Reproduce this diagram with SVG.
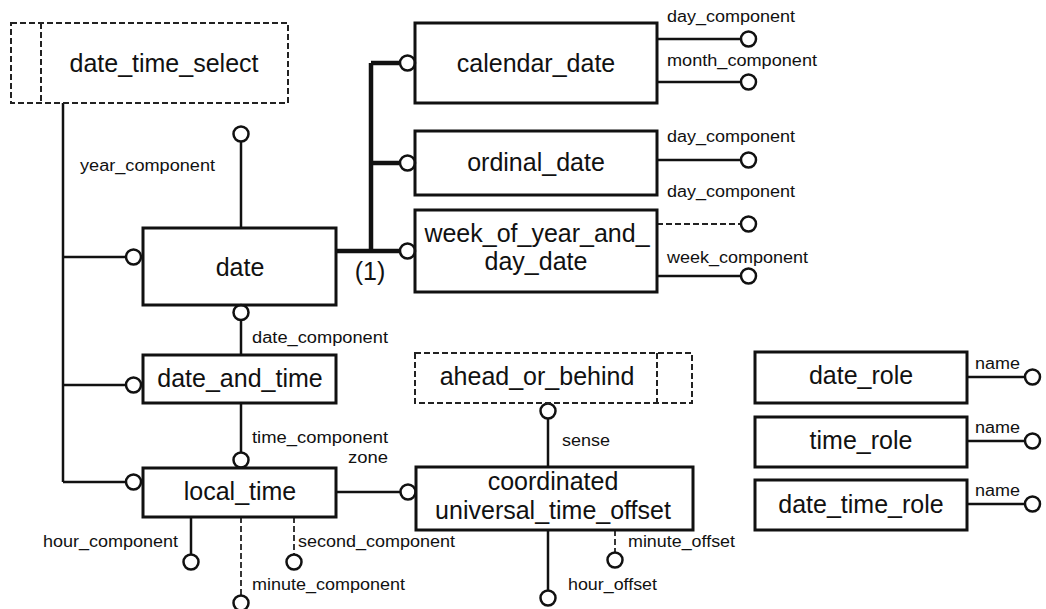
<svg xmlns="http://www.w3.org/2000/svg" width="1046" height="609" viewBox="0 0 1046 609">
<style>
.bg{fill:#fff}
.box{fill:none;stroke:#111;stroke-width:3}
.sel{fill:none;stroke:#222;stroke-width:2;stroke-dasharray:6 3}
.t{font-family:"Liberation Sans",Arial,sans-serif;font-size:25px;fill:#111;text-anchor:middle}
.l{font-family:"Liberation Sans",Arial,sans-serif;font-size:16px;fill:#111}
.ln{fill:none;stroke:#111;stroke-width:2.5}
.thick{fill:none;stroke:#111;stroke-width:4.5}
.dash{fill:none;stroke:#222;stroke-width:1.8;stroke-dasharray:6 3}
.c{fill:#fff;stroke:#111;stroke-width:2.5}
</style>
<rect class="bg" x="0" y="0" width="1046" height="609"/>

<g id="connectors">
  <!-- select bus -->
  <path class="ln" d="M63,103 V482 M63,257 H126 M63,385 H126 M63,482 H126"/>
  <circle class="c" cx="133.5" cy="257" r="7.5"/>
  <circle class="c" cx="133.5" cy="385" r="7.5"/>
  <circle class="c" cx="133.5" cy="482" r="7.5"/>
  <!-- date subtypes (thick) -->
  <path class="thick" d="M336,251 H399 M371,251 V63 M371,63 H399 M371,163 H399"/>
  <circle class="c" cx="407.5" cy="63" r="7.5"/>
  <circle class="c" cx="407.5" cy="163" r="7.5"/>
  <circle class="c" cx="407.5" cy="251" r="7.5"/>
  <!-- year_component -->
  <path class="ln" d="M241,228 V141"/>
  <circle class="c" cx="241" cy="134" r="7.5"/>
  <!-- date_component -->
  <circle class="c" cx="241" cy="312.5" r="7.5"/>
  <path class="ln" d="M241,320 V355"/>
  <!-- time_component -->
  <path class="ln" d="M241,403 V453"/>
  <circle class="c" cx="241" cy="460" r="7.5"/>
  <!-- zone -->
  <path class="ln" d="M336,492 H400"/>
  <circle class="c" cx="408" cy="492" r="7.5"/>
  <!-- local_time attrs -->
  <path class="ln" d="M191,517 V555"/>
  <circle class="c" cx="191" cy="562" r="7.5"/>
  <path class="dash" d="M241,517 V596"/>
  <circle class="c" cx="241" cy="603" r="7.5"/>
  <path class="dash" d="M294,517 V555"/>
  <circle class="c" cx="294" cy="562" r="7.5"/>
  <!-- sense -->
  <circle class="c" cx="548" cy="411" r="7.5"/>
  <path class="ln" d="M548,418.5 V467"/>
  <!-- offsets -->
  <path class="ln" d="M548,530 V591"/>
  <circle class="c" cx="548" cy="598" r="7.5"/>
  <path class="dash" d="M615,530 V553"/>
  <circle class="c" cx="615" cy="560" r="7.5"/>
  <!-- calendar/ordinal/week attrs -->
  <path class="ln" d="M657,39 H741 M657,82 H741 M657,160 H741 M657,276 H741"/>
  <path class="dash" d="M657,224 H741"/>
  <circle class="c" cx="748.5" cy="39" r="7.5"/>
  <circle class="c" cx="748.5" cy="82" r="7.5"/>
  <circle class="c" cx="748.5" cy="160" r="7.5"/>
  <circle class="c" cx="748.5" cy="224" r="7.5"/>
  <circle class="c" cx="748.5" cy="276" r="7.5"/>
  <!-- role names -->
  <path class="ln" d="M967,377 H1025 M967,441 H1025 M967,504 H1025"/>
  <circle class="c" cx="1032.5" cy="377" r="7.5"/>
  <circle class="c" cx="1032.5" cy="441" r="7.5"/>
  <circle class="c" cx="1032.5" cy="504" r="7.5"/>

  <!-- labels -->
  <text class="l" x="80" y="171" textLength="135" lengthAdjust="spacingAndGlyphs">year_component</text>
  <text class="l" x="667" y="22" textLength="128" lengthAdjust="spacingAndGlyphs">day_component</text>
  <text class="l" x="667" y="66" textLength="150" lengthAdjust="spacingAndGlyphs">month_component</text>
  <text class="l" x="667" y="142" textLength="128" lengthAdjust="spacingAndGlyphs">day_component</text>
  <text class="l" x="667" y="197" textLength="128" lengthAdjust="spacingAndGlyphs">day_component</text>
  <text class="l" x="667" y="263" textLength="141" lengthAdjust="spacingAndGlyphs">week_component</text>
  <text class="l" x="252" y="343" textLength="136" lengthAdjust="spacingAndGlyphs">date_component</text>
  <text class="l" x="252" y="443" textLength="136" lengthAdjust="spacingAndGlyphs">time_component</text>
  <text class="l" x="348" y="463" textLength="40" lengthAdjust="spacingAndGlyphs">zone</text>
  <text class="l" x="43" y="547" textLength="135" lengthAdjust="spacingAndGlyphs">hour_component</text>
  <text class="l" x="298" y="547" textLength="157" lengthAdjust="spacingAndGlyphs">second_component</text>
  <text class="l" x="252" y="590" textLength="153" lengthAdjust="spacingAndGlyphs">minute_component</text>
  <text class="l" x="562" y="446" textLength="48" lengthAdjust="spacingAndGlyphs">sense</text>
  <text class="l" x="628" y="547" textLength="107" lengthAdjust="spacingAndGlyphs">minute_offset</text>
  <text class="l" x="568" y="590" textLength="89" lengthAdjust="spacingAndGlyphs">hour_offset</text>
  <text class="l" x="975" y="369" textLength="45" lengthAdjust="spacingAndGlyphs">name</text>
  <text class="l" x="975" y="433" textLength="45" lengthAdjust="spacingAndGlyphs">name</text>
  <text class="l" x="975" y="496" textLength="45" lengthAdjust="spacingAndGlyphs">name</text>
  <text class="t" x="370" y="280">(1)</text>
</g>

<g id="date_time_select">
  <rect class="sel" x="11" y="23" width="277" height="80"/>
  <path class="sel" d="M41,23 V103"/>
  <text class="t" x="164" y="72">date_time_select</text>
</g>
<g id="calendar_date">
  <rect class="box" x="415" y="23" width="242" height="80"/>
  <text class="t" x="536" y="72">calendar_date</text>
</g>
<g id="ordinal_date">
  <rect class="box" x="415" y="131" width="242" height="64"/>
  <text class="t" x="536" y="171">ordinal_date</text>
</g>
<g id="week_of_year_and_day_date">
  <rect class="box" x="415" y="210" width="242" height="82"/>
  <text class="t" x="537" y="242">week_of_year_and_</text>
  <text class="t" x="536" y="270">day_date</text>
</g>
<g id="date">
  <rect class="box" x="143" y="228" width="193" height="77"/>
  <text class="t" x="240" y="276">date</text>
</g>
<g id="date_and_time">
  <rect class="box" x="143" y="355" width="193" height="48"/>
  <text class="t" x="240" y="387">date_and_time</text>
</g>
<g id="local_time">
  <rect class="box" x="143" y="468" width="193" height="49"/>
  <text class="t" x="240" y="500">local_time</text>
</g>
<g id="ahead_or_behind">
  <rect class="sel" x="415" y="353" width="277" height="50"/>
  <path class="sel" d="M657,353 V403"/>
  <text class="t" x="537" y="385">ahead_or_behind</text>
</g>
<g id="coordinated_universal_time_offset">
  <rect class="box" x="416" y="467" width="277" height="63"/>
  <text class="t" x="553" y="490">coordinated</text>
  <text class="t" x="553" y="519">universal_time_offset</text>
</g>
<g id="date_role">
  <rect class="box" x="755" y="352" width="212" height="51"/>
  <text class="t" x="861" y="384">date_role</text>
</g>
<g id="time_role">
  <rect class="box" x="755" y="417" width="212" height="50"/>
  <text class="t" x="861" y="449">time_role</text>
</g>
<g id="date_time_role">
  <rect class="box" x="755" y="480" width="212" height="50"/>
  <text class="t" x="861" y="513">date_time_role</text>
</g>
</svg>
